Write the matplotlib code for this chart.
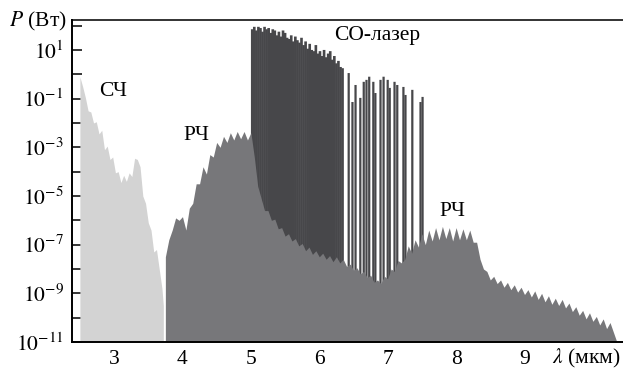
import numpy as np
import matplotlib
matplotlib.use("Agg")
import matplotlib.pyplot as plt

plt.rcParams['font.family'] = ['Liberation Serif', 'DejaVu Serif']
plt.rcParams['mathtext.fontset'] = 'stix'

# SHG / "СЧ" band, log10 of power (W)
sch_x = [2.50, 2.54, 2.58, 2.62, 2.66, 2.70, 2.74, 2.78, 2.82, 2.86,
         2.90, 2.94, 2.98, 3.02, 3.06, 3.10, 3.14, 3.18, 3.22, 3.26,
         3.30, 3.34, 3.38, 3.42, 3.46, 3.50, 3.54, 3.58, 3.62, 3.66,
         3.70, 3.72]
sch_log = [-0.1, -0.5, -0.95, -1.5, -1.55, -2.0, -1.95, -2.45, -2.3, -3.1,
           -2.95, -3.5, -3.4, -4.05, -4.0, -4.45, -4.15, -4.4, -4.05, -4.2,
           -3.45, -3.5, -3.8, -5.0, -5.3, -6.1, -6.4, -7.3, -7.2, -8.0,
           -8.8, -9.5]

# difference frequency / "РЧ" band, sampled every 0.05 um from 3.75
rch_start = 3.75
rch_step = 0.05
rch_log = [-7.5, -6.8, -6.4, -5.9, -6.0, -5.85, -6.4, -5.5, -5.3, -4.5,
           -4.5, -3.8, -4.1, -3.3, -3.4, -2.8, -3.0, -2.55, -2.8, -2.4,
           -2.7, -2.35, -2.65, -2.35, -2.7, -2.4, -3.4, -4.6, -5.1, -5.6,
           -5.6, -6.0, -5.95, -6.35, -6.3, -6.65, -6.55, -6.85, -6.75, -7.05,
           -6.95, -7.25, -7.1, -7.4, -7.25, -7.5, -7.35, -7.6, -7.45, -7.7,
           -7.5, -7.75, -7.6, -7.9, -7.8, -8.05, -7.95, -8.2, -8.1, -8.35,
           -8.25, -8.55, -8.45, -8.6, -8.3, -8.4, -8.0, -8.1, -7.65, -7.75,
           -7.6, -7.05, -7.35, -6.8, -7.1, -6.55, -7.0, -6.4, -6.85, -6.3,
           -6.8, -6.25, -6.75, -6.3, -6.85, -6.3, -6.8, -6.35, -6.8, -6.4,
           -6.9, -6.9, -7.6, -8.0, -8.1, -8.45, -8.3, -8.6, -8.45, -8.75,
           -8.55, -8.85, -8.65, -8.95, -8.75, -9.05, -8.85, -9.15, -8.9, -9.25,
           -9.0, -9.35, -9.1, -9.45, -9.2, -9.5, -9.25, -9.6, -9.4, -9.75,
           -9.55, -9.9, -9.7, -10.05, -9.8, -10.15, -9.95, -10.3, -10.05, -10.45,
           -10.2, -10.6, -11.0]

# CO laser lines: position (um) and log10 of peak power (W)
co_x = [5.02, 5.05, 5.08, 5.11, 5.14, 5.17, 5.20, 5.23, 5.26, 5.29,
        5.32, 5.35, 5.38, 5.41, 5.44, 5.47, 5.50, 5.53, 5.56, 5.59,
        5.62, 5.65, 5.68, 5.71, 5.74, 5.77, 5.80, 5.83, 5.86, 5.89,
        5.92, 5.95, 5.98, 6.01, 6.04, 6.07, 6.10, 6.13, 6.16, 6.19,
        6.22, 6.25, 6.28, 6.31, 6.34,
        6.43, 6.485, 6.53, 6.60, 6.65, 6.69, 6.73, 6.79, 6.82, 6.895,
        6.94, 7.00, 7.03, 7.10, 7.14, 7.23, 7.26, 7.36, 7.48, 7.51]
co_log = [1.85, 1.95, 1.8, 1.95, 1.9, 1.75, 1.95, 1.85, 1.9, 1.7,
          1.85, 1.8, 1.6, 1.75, 1.55, 1.8, 1.7, 1.5, 1.45, 1.6,
          1.35, 1.55, 1.4, 1.3, 1.5, 1.2, 1.35, 1.05, 1.25, 1.0,
          0.95, 1.2, 0.85, 0.95, 0.75, 1.0, 0.7, 0.85, 0.95, 0.6,
          0.75, 0.45, 0.55, 0.3, 0.25,
          0.05, -1.14, -0.44, -0.97, -0.31, -0.23, -0.1, -0.31, -0.77, -0.23,
          -0.1, -0.23, -0.56, -0.31, -0.44, -0.52, -0.85, -0.64, -1.14, -0.93]
n_dense = 45

x_ticks = [3, 4, 5, 6, 7, 8, 9, 10]
x_labels = ['3', '4', '5', '6', '7', '8', '9', '']
y_decades = list(range(-11, 3))

light = '#d3d3d3'
mid = '#77777a'
dark = '#47474a'
floor = 1e-11

fig = plt.figure(figsize=(6.23, 3.70), dpi=100)
ax = fig.add_axes([72 / 623, 28 / 370, 551 / 623, 322 / 370])

# CO lines first, the РЧ background covers their lower part
co_top = [10.0 ** v for v in co_log]
dense = ax.vlines(co_x[:n_dense], floor, co_top[:n_dense], color=dark,
                  linewidth=1.9, zorder=2)
sparse = ax.vlines(co_x[n_dense:], floor, co_top[n_dense:], color=dark,
                   linewidth=1.6, zorder=2)
dense.set_snap(False)
sparse.set_snap(False)

rch_x = rch_start + rch_step * np.arange(len(rch_log))
ax.fill_between(rch_x, floor, 10.0 ** np.array(rch_log),
                color=mid, linewidth=0, zorder=3)
ax.fill_between(sch_x, floor, 10.0 ** np.array(sch_log),
                color=light, linewidth=0, zorder=3)

ax.set_yscale('log')
ax.set_xlim(2.385, 10.44)
ax.set_ylim(1e-11, 10 ** 2.23)

ax.set_xticks(x_ticks)
ax.set_xticklabels(x_labels)
ylabels = [r'$10^{%d}$' % d if d % 2 else '' for d in y_decades]
ax.set_yticks([10.0 ** d for d in y_decades])
ax.set_yticklabels(ylabels)
ax.minorticks_off()

ax.tick_params(axis='both', direction='in', labelsize=15.5, width=1.1)
ax.tick_params(axis='y', length=7, pad=6, color='black')
ax.tick_params(axis='x', length=5, pad=6, color='white')
for t in ax.xaxis.get_major_ticks():
    t.tick1line.set_zorder(5)
ax.xaxis.get_major_ticks()[0].tick1line.set_color('black')
ax.set_axisbelow(False)

for s in ['left', 'bottom']:
    ax.spines[s].set_linewidth(1.4)
    ax.spines[s].set_zorder(6)
ax.spines['top'].set_linewidth(1.4)
ax.spines['top'].set_color('#333333')
ax.spines['right'].set_visible(False)

ax.text(2.985, 10 ** -0.725, 'СЧ', fontsize=15.5, ha='center', va='center')
ax.text(4.20, 10 ** -2.53, 'РЧ', fontsize=15.5, ha='center', va='center')
ax.text(6.85, 10 ** 1.575, 'СО-лазер', fontsize=15.5, ha='center',
        va='center')
ax.text(7.95, 10 ** -5.65, 'РЧ', fontsize=15.5, ha='center', va='center')

fig.text(67 / 623, 1 - 21 / 370, r'$P$ (Вт)', fontsize=15.5,
         ha='right', va='center')
fig.text(621 / 623, 1 - 358 / 370, r'$\lambda$ (мкм)', fontsize=15.5,
         ha='right', va='center')

fig.savefig('out.png', dpi=100)
